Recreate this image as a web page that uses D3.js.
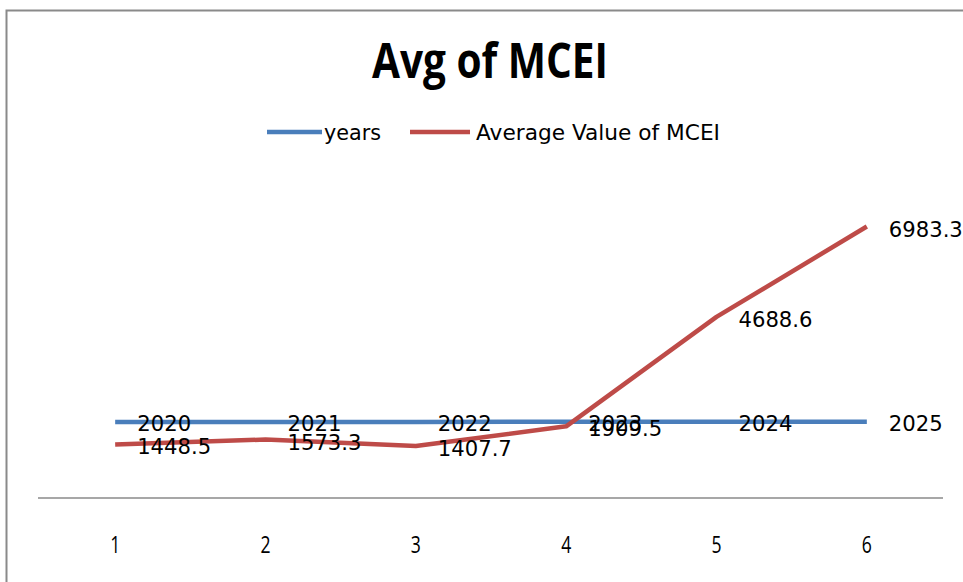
<!DOCTYPE html>
<html>
<head>
<meta charset="utf-8">
<script src="https://cdn.jsdelivr.net/npm/d3@7"></script>
<style>
  body { margin: 0; background: #fff; }
  svg { display: block; }
</style>
</head>
<body>
<div class="container"></div>
<script>
var categories = ["1", "2", "3", "4", "5", "6"];
var years = [2020, 2021, 2022, 2023, 2024, 2025];
var mcei = [1448.5, 1573.3, 1407.7, 1909.5, 4688.6, 6983.3];
var mceiLabels = ["1448.5", "1573.3", "1407.7", "1909.5", "4688.6", "6983.3"];
var seriesNames = ["years", "Average Value of MCEI"];
var colors = ["#4A7EBB", "#BE4B48"];

var w = 963, h = 582;
var svg = d3.select('.container')
  .append('svg')
  .attr('width', w)
  .attr('height', h);

// chart frame
svg.append('rect')
  .attr('x', 6.5).attr('y', 10.5)
  .attr('width', w + 20).attr('height', h + 20)
  .attr('fill', '#fff')
  .attr('stroke', '#8a8a8a')
  .attr('stroke-width', 2);

/* ===== SCALES ===== */
var xScale = d3.scaleBand()
  .domain(categories)
  .range([40, 942]);

var yScale = d3.scaleLinear()
  .domain([0, 8000])
  .range([501.5, 186.5]);

function cx(i) { return xScale(categories[i]) + xScale.bandwidth() / 2; }

/* ===== AXIS ===== */
var xAxis = d3.axisBottom(xScale).tickSize(0).tickPadding(0);
var ax = svg.append('g')
  .attr('transform', 'translate(0,498)')
  .call(xAxis);
ax.select('.domain')
  .attr('d', 'M38,0H943')
  .attr('stroke', '#8a8a8a')
  .attr('stroke-width', 1.5);
ax.selectAll('text')
  .style('font', '22px "Open Sans", sans-serif')
  .attr('fill', '#000')
  .attr('dy', null)
  .attr('y', 0)
  .attr('transform', 'translate(0,55) scale(0.8,1.05)');

/* ===== LINES ===== */
var line = d3.line()
  .x(function(d, i) { return cx(i); })
  .y(function(d) { return yScale(d); });

[years, mcei].forEach(function(s, k) {
  svg.append('path')
    .datum(s)
    .attr('d', line)
    .attr('fill', 'none')
    .attr('stroke', colors[k])
    .attr('stroke-width', 4.5)
    .attr('stroke-linejoin', 'round');
});

/* ===== DATA LABELS ===== */
var labelFont = '22px "DejaVu Sans", sans-serif';
svg.append('g').selectAll('text')
  .data(years)
  .enter().append('text')
  .attr('x', function(d, i) { return cx(i) + 22; })
  .attr('y', function(d) { return yScale(d) + 9; })
  .style('font', labelFont)
  .attr('fill', '#000')
  .attr('textLength', 54)
  .attr('lengthAdjust', 'spacingAndGlyphs')
  .text(function(d) { return d; });

svg.append('g').selectAll('text')
  .data(mcei)
  .enter().append('text')
  .attr('x', function(d, i) { return cx(i) + 22; })
  .attr('y', function(d) { return yScale(d) + 10; })
  .style('font', labelFont)
  .attr('fill', '#000')
  .attr('textLength', 74)
  .attr('lengthAdjust', 'spacingAndGlyphs')
  .text(function(d, i) { return mceiLabels[i]; });

/* ===== TITLE ===== */
svg.append('text')
  .attr('x', 490)
  .attr('y', 78)
  .attr('text-anchor', 'middle')
  .style('font', 'bold 48px "Open Sans", sans-serif')
  .attr('textLength', 236)
  .attr('lengthAdjust', 'spacingAndGlyphs')
  .attr('fill', '#000')
  .text('Avg of MCEI');

/* ===== LEGEND ===== */
var legend = [
  {x1: 267, x2: 322, tx: 324, tw: 57},
  {x1: 410, x2: 470, tx: 476, tw: 244}
];
legend.forEach(function(l, k) {
  svg.append('line')
    .attr('x1', l.x1).attr('x2', l.x2)
    .attr('y1', 132).attr('y2', 132)
    .attr('stroke', colors[k])
    .attr('stroke-width', 4.5);
  svg.append('text')
    .attr('x', l.tx)
    .attr('y', 140)
    .style('font', '21px "DejaVu Sans", sans-serif')
    .attr('textLength', l.tw)
    .attr('lengthAdjust', 'spacingAndGlyphs')
    .attr('fill', '#000')
    .text(seriesNames[k]);
});
</script>
</body>
</html>
